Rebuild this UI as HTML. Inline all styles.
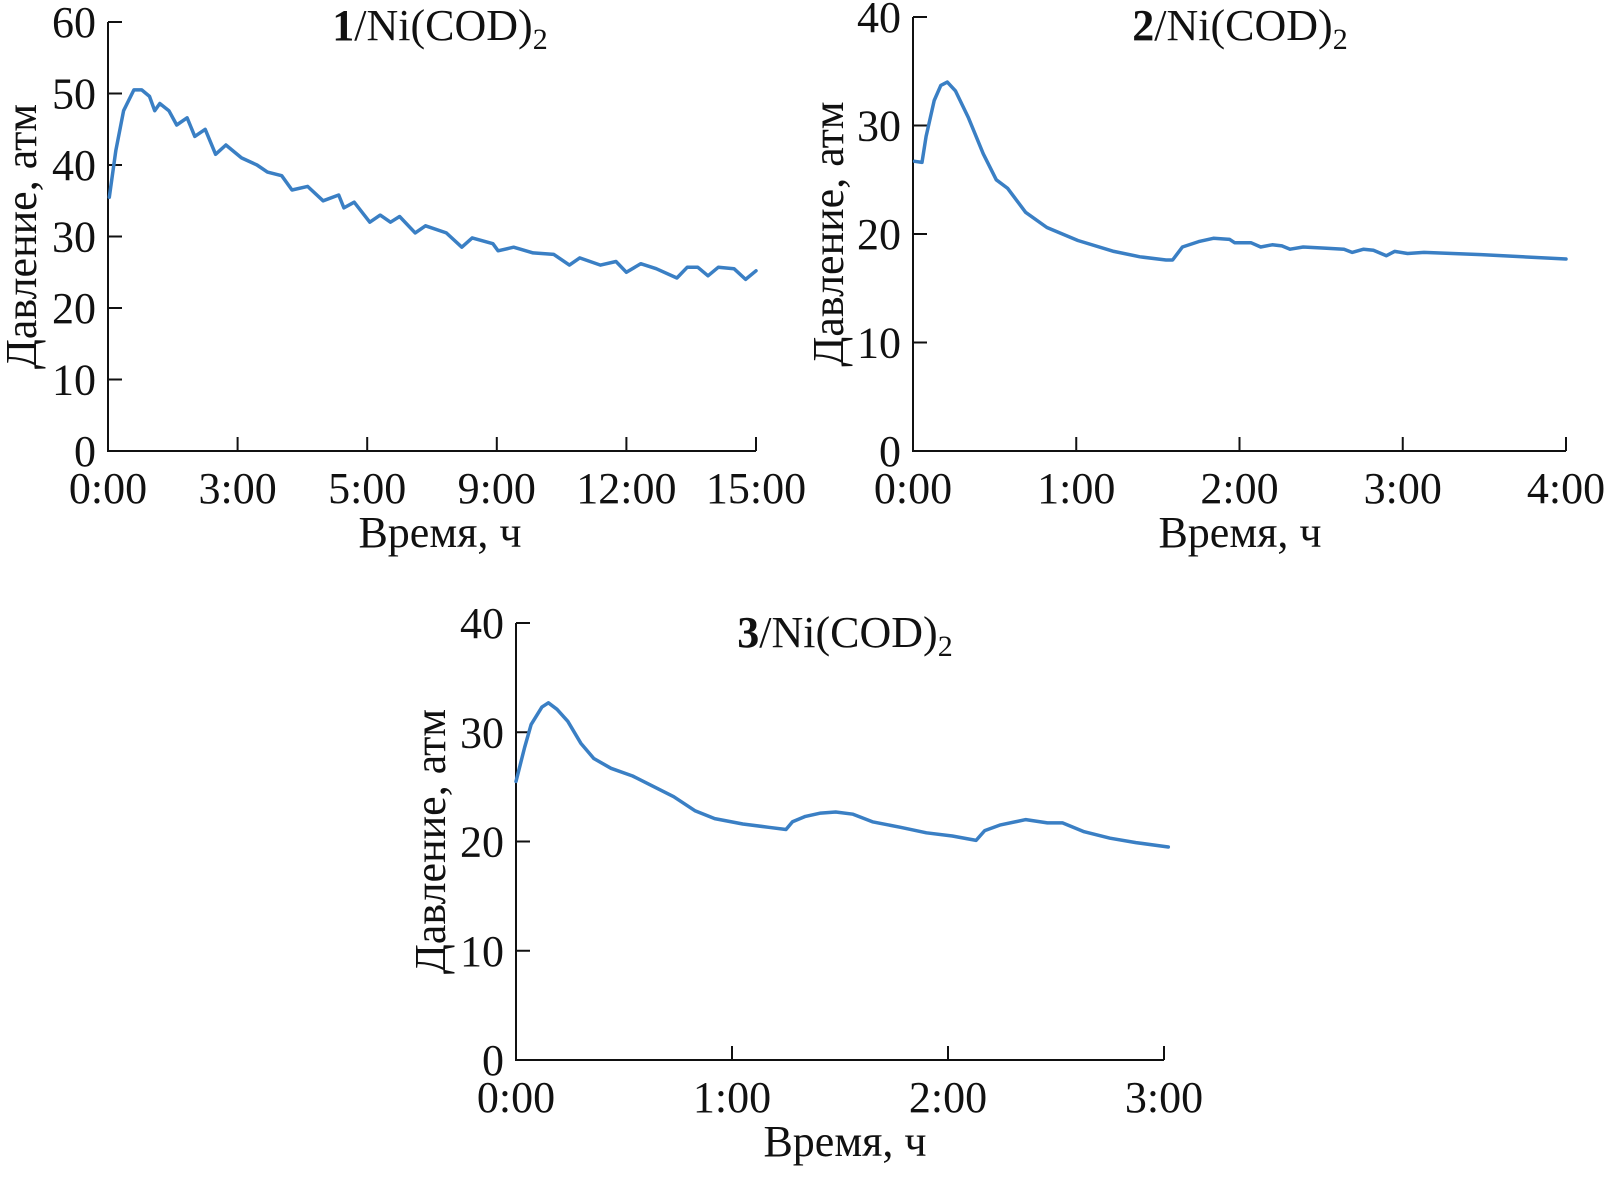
<!DOCTYPE html>
<html><head><meta charset="utf-8"><style>
html,body{margin:0;padding:0;background:#fff;}
svg{display:block;}
text{font-family:"Liberation Serif",serif;font-size:44px;fill:#111;}
</style></head><body>
<svg id="fig" width="1617" height="1187" viewBox="0 0 1617 1187" xmlns="http://www.w3.org/2000/svg"></svg>
<script>
// Panel 1 data (x in tick-index units: 0..5 for labels 0:00..15:00)
const p1Ticks = ["0:00","3:00","5:00","9:00","12:00","15:00"];
const p1YTicks = [0,10,20,30,40,50,60];
const p1X = [0.01,0.06,0.12,0.2,0.26,0.32,0.36,0.40,0.47,0.53,0.61,0.67,0.75,0.83,0.91,1.03,1.15,1.23,1.34,1.42,1.54,1.66,1.78,1.82,1.90,2.02,2.10,2.18,2.25,2.37,2.45,2.61,2.73,2.81,2.97,3.01,3.13,3.28,3.44,3.56,3.64,3.80,3.92,4.00,4.11,4.23,4.39,4.47,4.55,4.63,4.71,4.83,4.92,5.00];
const p1Y = [35.5,42,47.6,50.5,50.5,49.6,47.6,48.6,47.6,45.6,46.6,44,45,41.5,42.8,41,40,39,38.5,36.5,37,35,35.8,34,34.8,32,33,32,32.8,30.5,31.5,30.5,28.5,29.8,29,28,28.5,27.7,27.5,26,27,26,26.5,25,26.2,25.5,24.2,25.7,25.7,24.5,25.7,25.5,24,25.2];
// Panel 2 data (hours)
const p2Ticks = ["0:00","1:00","2:00","3:00","4:00"];
const p2YTicks = [0,10,20,30,40];
const p2X = [0.01,0.055,0.08,0.13,0.17,0.21,0.26,0.34,0.43,0.51,0.58,0.69,0.82,1.01,1.23,1.39,1.55,1.59,1.65,1.75,1.84,1.94,1.97,2.07,2.13,2.20,2.26,2.31,2.39,2.52,2.64,2.69,2.76,2.82,2.90,2.95,3.03,3.13,3.48,4.0];
const p2Y = [26.7,26.6,29,32.3,33.7,34,33.2,30.7,27.4,25,24.2,22,20.6,19.4,18.4,17.9,17.6,17.6,18.8,19.3,19.6,19.5,19.2,19.2,18.8,19,18.9,18.6,18.8,18.7,18.6,18.3,18.6,18.5,18,18.4,18.2,18.3,18.1,17.7];
// Panel 3 data (hours)
const p3Ticks = ["0:00","1:00","2:00","3:00"];
const p3YTicks = [0,10,20,30,40];
const p3X = [0,0.04,0.07,0.12,0.15,0.19,0.24,0.30,0.36,0.44,0.54,0.63,0.73,0.83,0.92,1.05,1.17,1.25,1.28,1.34,1.41,1.48,1.56,1.65,1.78,1.90,2.02,2.13,2.17,2.24,2.36,2.46,2.53,2.63,2.75,2.87,3.02];
const p3Y = [25.5,28.6,30.7,32.3,32.7,32.1,31,29,27.6,26.7,26,25.1,24.1,22.8,22.1,21.6,21.3,21.1,21.8,22.3,22.6,22.7,22.5,21.8,21.3,20.8,20.5,20.1,21,21.5,22,21.7,21.7,20.9,20.3,19.9,19.5];

const NS="http://www.w3.org/2000/svg";
const svg=document.getElementById('fig');
function mk(tag,attrs,parent){const e=document.createElementNS(NS,tag);for(const k in attrs)e.setAttribute(k,attrs[k]);(parent||svg).appendChild(e);return e;}

function panel(cfg){
  const g=mk('g',{});
  
  
  const xmax=cfg.ticks.length-1, ymax=cfg.yTicks[cfg.yTicks.length-1];
  const sx=v=>cfg.x0+(cfg.x1-cfg.x0)*v/xmax;
  const sy=v=>cfg.y0-(cfg.y0-cfg.y1)*v/ymax;
  const ax=mk('path',{d:`M${cfg.x0},${sy(ymax)} V${cfg.y0} H${cfg.x1}`,fill:'none',stroke:'#111','stroke-width':2},g);
  
  
  cfg.yTicks.forEach(v=>{
    const t=mk('line',{x1:cfg.x0,x2:cfg.x0+14,y1:sy(v),y2:sy(v),stroke:'#111','stroke-width':2},g);
    
    
    const l=mk('text',{x:cfg.x0-12,y:sy(v)+15,'text-anchor':'end'},g);
    l.textContent=v;
    
    
  });
  cfg.ticks.forEach((s,i)=>{
    const t=mk('line',{x1:sx(i),x2:sx(i),y1:cfg.y0,y2:cfg.y0-14,stroke:'#111','stroke-width':2},g);
    
    
    const l=mk('text',{x:sx(i),y:cfg.y0+52,'text-anchor':'middle'},g);
    l.textContent=s;
    
    
  });
  const d=cfg.xs.map((v,i)=>(i?'L':'M')+sx(v).toFixed(1)+','+sy(cfg.ys[i]).toFixed(1)).join(' ');
  const line=mk('path',{d:d,fill:'none',stroke:'#3a7fc4','stroke-width':3.5,'stroke-linejoin':'round','stroke-linecap':'round'},g);
  
  
  const ttl=mk('text',{x:cfg.tx,y:cfg.ty,'text-anchor':'middle','font-size':46},g);
  ttl.innerHTML='<tspan font-weight="bold">'+cfg.num+'</tspan>/Ni(COD)<tspan font-size="30" dy="9">2</tspan>';
  
  
  const xt=mk('text',{x:cfg.tx,y:cfg.y0+96,'text-anchor':'middle','font-size':46},g);
  xt.textContent='Время, ч';
  
  
  const yc=(cfg.y0+sy(ymax))/2;
  const yt=mk('text',{x:0,y:0,'text-anchor':'middle','font-size':46,transform:`translate(${cfg.ylx},${yc}) rotate(-90)`},g);
  yt.textContent='Давление, атм';
  
  
}
panel({name:'chart-1',num:'1',ticks:p1Ticks,yTicks:p1YTicks,xs:p1X,ys:p1Y,x0:108,x1:756,y0:451,y1:22,tx:440,ty:40,ylx:36});
panel({name:'chart-2',num:'2',ticks:p2Ticks,yTicks:p2YTicks,xs:p2X,ys:p2Y,x0:913,x1:1566,y0:451,y1:17,tx:1240,ty:40,ylx:843});
panel({name:'chart-3',num:'3',ticks:p3Ticks,yTicks:p3YTicks,xs:p3X,ys:p3Y,x0:516,x1:1164,y0:1060,y1:623,tx:845,ty:647,ylx:445});
</script>
</body></html>
